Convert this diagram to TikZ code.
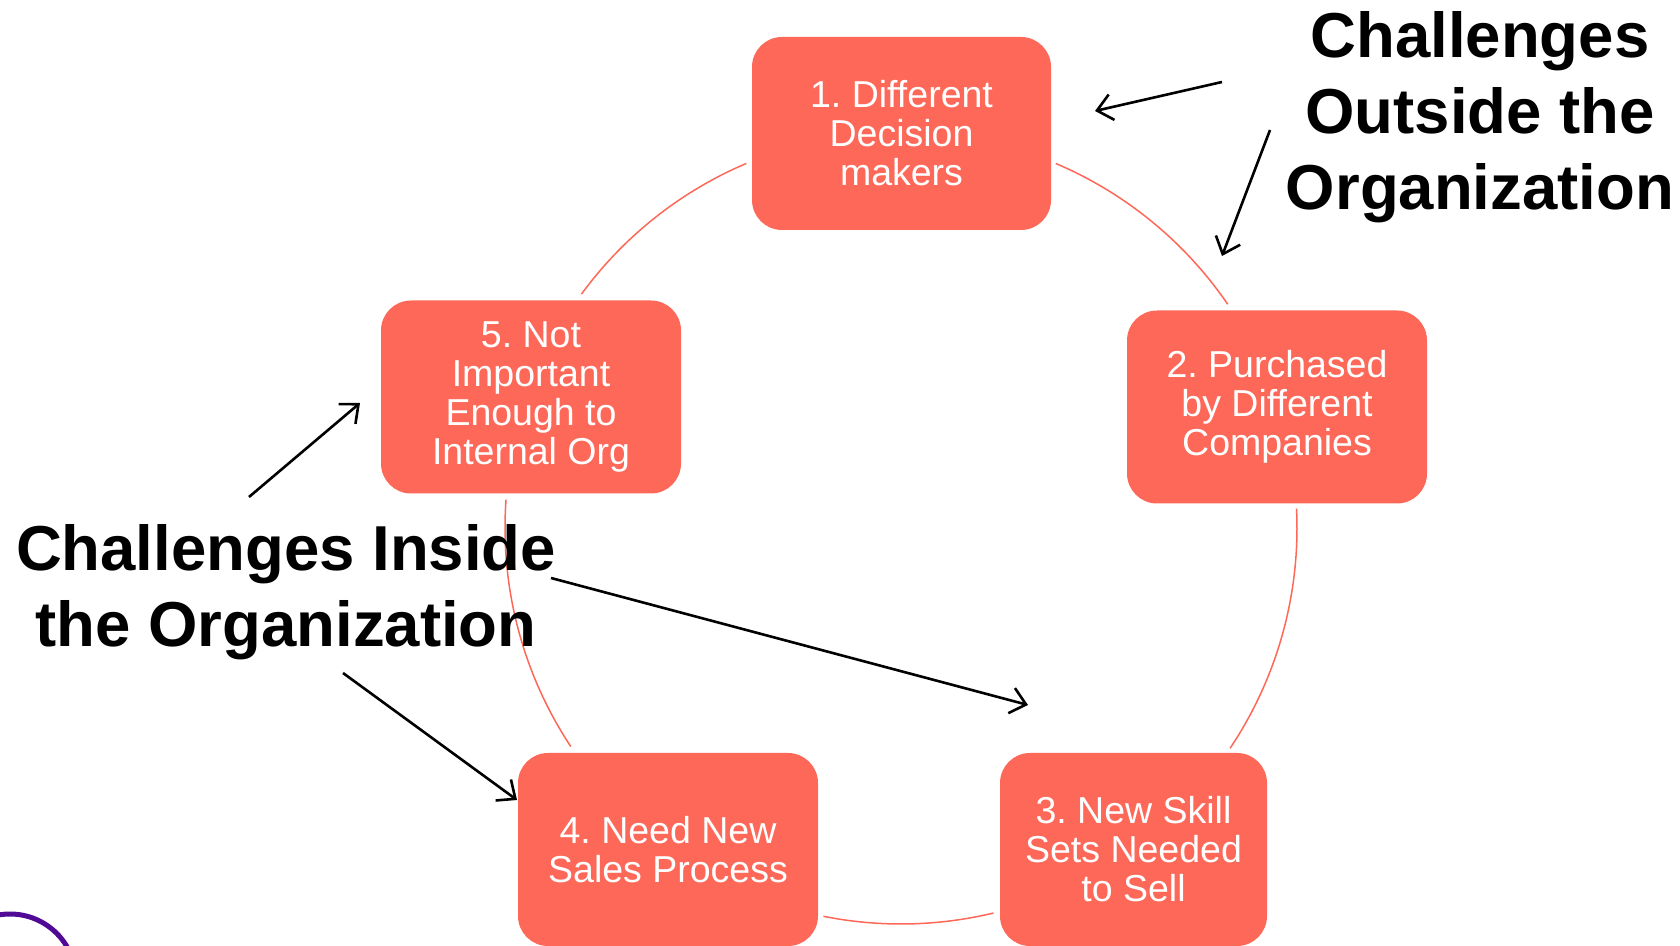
\documentclass[tikz,border=0pt]{standalone}
\usepackage{fontspec}
\setmainfont{Liberation Sans}
\usetikzlibrary{arrows.meta}
\definecolor{coral}{RGB}{253,104,88}
\definecolor{ringpurple}{RGB}{80,10,150}
\frenchspacing
\begin{document}
\begin{tikzpicture}[x=1pt,y=1pt,
  stepbox/.style={fill=coral, rounded corners=30pt, minimum width=#1,
    minimum height=193pt, text=white, align=center, inner sep=0pt,
    font=\fontsize{37.5}{39}\selectfont},
  stepbox/.default=300pt,
  cyclearc/.style={draw=coral, line width=1.5pt},
  heading/.style={align=center, font=\bfseries\fontsize{63.5}{76}\selectfont},
  pointer/.style={draw=black, line width=2.6pt,
    -{Straight Barb[length=15pt,width=26pt,line width=2.6pt]}}]
\useasboundingbox (0,0) rectangle (1680,945);
\clip (0,0) rectangle (1680,945);

% ring centre
\coordinate (c) at (901,417);

% arcs of the cycle, drawn behind the boxes
\draw[cyclearc] ([shift={(67:396pt)}]c) arc[start angle=67, end angle=34.4, radius=396pt];
\draw[cyclearc] ([shift={(2.8:396pt)}]c) arc[start angle=2.8, end angle=-33.8, radius=396pt];
\draw[cyclearc] ([shift={(-76.5:396pt)}]c) arc[start angle=-76.5, end angle=-101.3, radius=396pt];
\draw[cyclearc] ([shift={(-146.5:396pt)}]c) arc[start angle=-146.5, end angle=-184.1, radius=396pt];
\draw[cyclearc] ([shift={(143.8:396pt)}]c) arc[start angle=143.8, end angle=113, radius=396pt];

% the five steps
\node[stepbox=299pt] (s1) at (901.5,811.5) {1. Different\\Decision\\makers};
\node[stepbox] (s2) at (1277,538) {2. Purchased\\by Different\\Companies};
\node[stepbox=267pt] (s3) at (1133.5,95.5) {3. New Skill\\Sets Needed\\to Sell};
\node[stepbox] (s4) at (668,95.5) {4. Need New\\Sales Process};
\node[stepbox] (s5) at (531,548) {5. Not\\Important\\Enough to\\Internal Org};

% group labels
\node[heading] (outside) at (1480,828) {Challenges\\Outside the\\Organization};
\node[heading] (inside) at (286,353) {Challenges Inside\\the Organization};

% pointer ends
\coordinate (a1) at (1222,863); \coordinate (a2) at (1095,834);
\coordinate (b1) at (1270,815); \coordinate (b2) at (1222,689);
\coordinate (c1) at (249,448);  \coordinate (c2) at (360,542);
\coordinate (d1) at (551,367);  \coordinate (d2) at (1028,240);
\coordinate (e1) at (343,272);  \coordinate (e2) at (517,145);

\draw[pointer] (a1) -- (a2);
\draw[pointer] (b1) -- (b2);
\draw[pointer] (c1) -- (c2);
\draw[pointer] (d1) -- (d2);
\draw[pointer] (e1) -- (e2);

% partial ring in the corner
\draw[ringpurple, line width=5pt] (10,-35) circle[radius=66pt];
\end{tikzpicture}
\end{document}
